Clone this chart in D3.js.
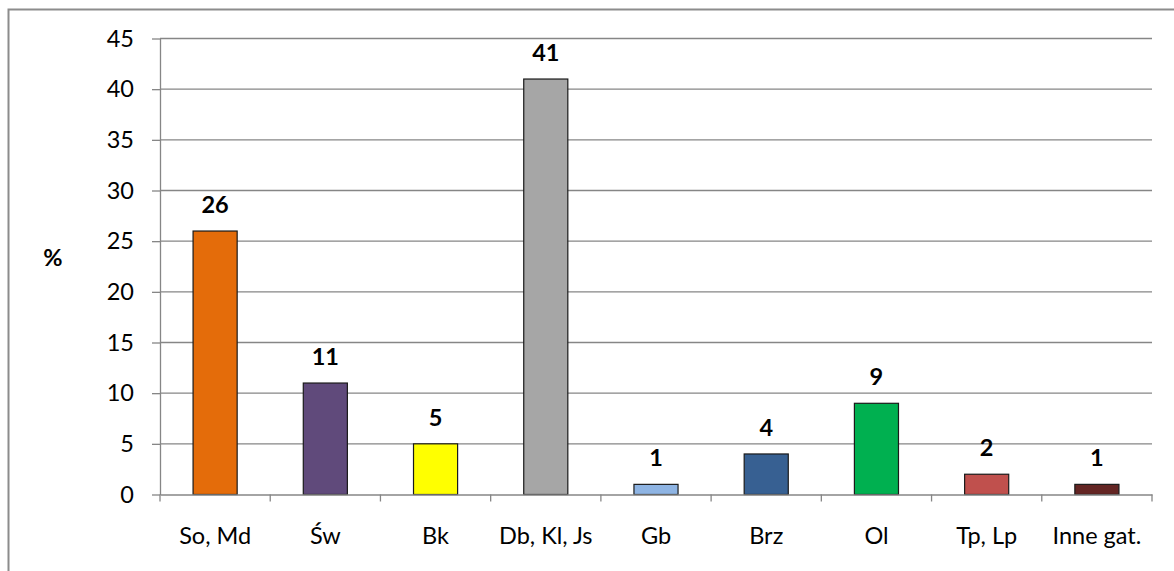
<!DOCTYPE html>
<html><head><meta charset="utf-8">
<script src="https://cdn.jsdelivr.net/npm/d3@7"></script>
<style>html,body{margin:0;padding:0;background:#fff;overflow:hidden}</style>
</head><body>
<svg id="c" width="1174" height="571"></svg>
<script>
const categories = ["So, Md","Św","Bk","Db, Kl, Js","Gb","Brz","Ol","Tp, Lp","Inne gat."];
const values = [26, 11, 5, 41, 1, 4, 9, 2, 1];
const colors = ["#E46C0A","#604A7B","#FFFF00","#A6A6A6","#8EB4E3","#376092","#00B050","#C0504D","#632523"];
const yTicks = [0,5,10,15,20,25,30,35,40,45];
const yLabel = "%";

const svg = d3.select("#c");
const font = "Lato, 'Open Sans', sans-serif";
const fs = 23.5;
const grid = "#868686";
const L = 160, R = 1152, T = 38.5, B = 494.5;

svg.append("rect").attr("x",8.5).attr("y",9.5).attr("width",1200).attr("height",600)
  .attr("fill","none").attr("stroke","#8c8c8c").attr("stroke-width",2);

const x = d3.scaleBand().domain(categories).range([L,R]).paddingInner(0.6).paddingOuter(0.3);
const xb = d3.scaleBand().domain(categories).range([L,R]);
const y = d3.scaleLinear().domain([0,45]).range([B,T]);

// gridlines
svg.append("g").selectAll("line").data(yTicks.filter(d=>d>0)).join("line")
  .attr("x1",L).attr("x2",R).attr("y1",d=>y(d)).attr("y2",d=>y(d))
  .attr("stroke",grid).attr("stroke-width",1.3);

// y axis
const ya = svg.append("g").attr("transform",`translate(${L},0)`)
  .call(d3.axisLeft(y).tickValues(yTicks).tickSize(8).tickPadding(18).tickSizeOuter(0));
ya.select(".domain").attr("stroke",grid).attr("stroke-width",1.3);
ya.selectAll(".tick line").attr("stroke",grid).attr("stroke-width",1.3);
ya.selectAll(".tick text").attr("font-family",font).attr("font-size",fs).attr("fill","#000");

// bars
svg.append("g").selectAll("rect").data(values).join("rect")
  .attr("x",(d,i)=>x(categories[i])).attr("width",x.bandwidth())
  .attr("y",d=>y(d)).attr("height",d=>y(0)-y(d))
  .attr("fill",(d,i)=>colors[i]).attr("stroke","#1a1a1a").attr("stroke-width",1.2);

// x axis
const xa = svg.append("g").attr("transform",`translate(0,${B})`)
  .call(d3.axisBottom(xb).tickSize(0).tickPadding(33));
xa.select(".domain").attr("stroke",grid).attr("stroke-width",1.3);
xa.selectAll(".tick text").attr("font-family",font).attr("font-size",fs).attr("fill","#000");
svg.append("g").selectAll("line").data(categories.concat(["__end"])).join("line")
  .attr("x1",(d,i)=>L+i*xb.step()).attr("x2",(d,i)=>L+i*xb.step())
  .attr("y1",B).attr("y2",B+7).attr("stroke",grid).attr("stroke-width",1.3);

// value labels
svg.append("g").selectAll("text").data(values).join("text")
  .attr("x",(d,i)=>xb(categories[i])+xb.bandwidth()/2).attr("y",d=>y(d)-18)
  .attr("text-anchor","middle").attr("font-family",font).attr("font-weight","bold")
  .attr("font-size",fs).attr("fill","#000").text(d=>d);

svg.append("text").attr("x",53).attr("y",266).attr("text-anchor","middle")
  .attr("font-family",font).attr("font-weight","bold").attr("font-size",fs).text(yLabel);
</script>
</body></html>
